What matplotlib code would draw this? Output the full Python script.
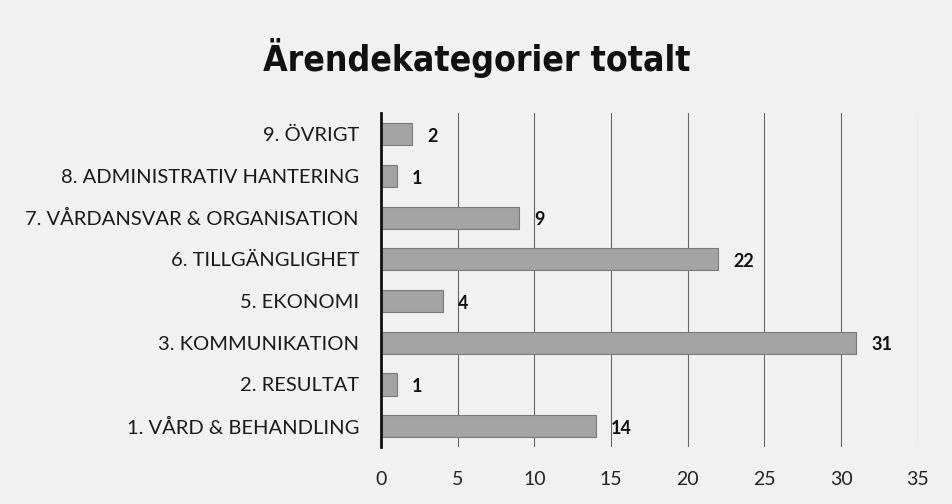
import matplotlib.pyplot as plt

kategorier = ['1. VÅRD & BEHANDLING', '2. RESULTAT', '3. KOMMUNIKATION', '5. EKONOMI',
              '6. TILLGÄNGLIGHET', '7. VÅRDANSVAR & ORGANISATION',
              '8. ADMINISTRATIV HANTERING', '9. ÖVRIGT']
antal = [14, 1, 31, 4, 22, 9, 1, 2]
xticks = [0, 5, 10, 15, 20, 25, 30, 35]

plt.rcParams['font.family'] = ['Lato', 'DejaVu Sans']

fig = plt.figure(figsize=(9.53, 5.04), dpi=100, facecolor='#f1f1f1')
ax = fig.add_axes([0.400, 0.113, 0.563, 0.662])
ax.set_facecolor('none')

y = range(len(kategorier))
ax.barh(y, antal, height=0.53, color='#a3a3a3', edgecolor='#7a7a7a', linewidth=0.8, zorder=3)
for yi, v in zip(y, antal):
    ax.text(v + 1.0, yi - 0.05, str(v), va='center', ha='left', fontsize=13,
            fontweight='bold', color='#111111', zorder=4)

ax.set_yticks(list(y))
ax.set_yticklabels(kategorier, fontsize=14.5, color='#1a1a1a')
ax.set_xticks(xticks)
ax.set_xticklabels([str(t) for t in xticks], fontsize=14, color='#222222')
ax.set_xlim(0, 35)
ax.set_ylim(-0.5, len(kategorier) - 0.5)
ax.grid(axis='x', color='#666666', linewidth=0.8, zorder=0)
ax.tick_params(axis='y', length=0, pad=16)
ax.tick_params(axis='x', length=0, pad=17)
for s in ['top', 'right', 'bottom']:
    ax.spines[s].set_visible(False)
ax.spines['left'].set_linewidth(2)
ax.spines['left'].set_color('#111111')
ax.spines['left'].set_zorder(5)

fig.text(0.5, 0.885, 'Ärendekategorier totalt', ha='center', va='center', fontsize=25.5,
         fontweight='bold', fontstretch='condensed', color='#111111',
         family=['DejaVu Sans'])

fig.savefig('out.png', dpi=100, facecolor=fig.get_facecolor())
